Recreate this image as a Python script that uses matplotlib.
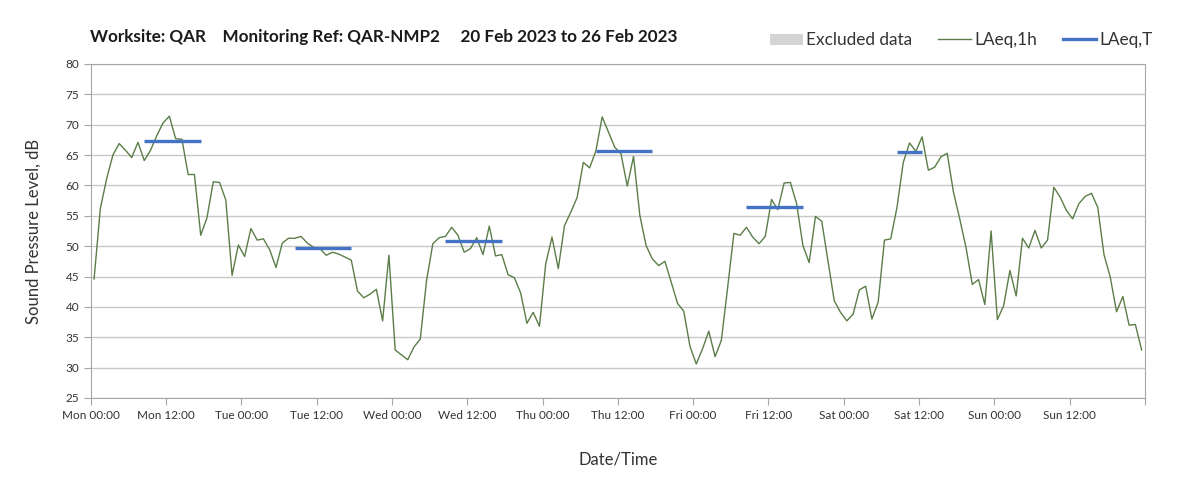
import numpy as np
import matplotlib
matplotlib.use("Agg")
import matplotlib.pyplot as plt
from matplotlib.lines import Line2D
from matplotlib.patches import Patch

# hourly LAeq,1h readings, Mon 20 Feb 00:00 -> Sun 26 Feb 23:00
laeq_1h = [
    44.6, 56.2, 61.1, 65.0, 66.9, 65.8, 64.6, 67.1, 64.1, 65.8,
    68.2, 70.3, 71.4, 67.7, 67.6, 61.8, 61.8, 51.8, 54.7, 60.6,
    60.5, 57.6, 45.2, 50.2, 48.3, 52.9, 51.0, 51.2, 49.4, 46.5,
    50.5, 51.3, 51.3, 51.6, 50.5, 49.8, 49.6, 48.5, 49.0, 48.7,
    48.2, 47.7,
    42.6, 41.5, 42.1, 42.9, 37.7, 48.5, 32.9, 32.1, 31.3, 33.4,
    34.7, 44.3, 50.4, 51.4, 51.6, 53.1, 51.8, 49.0, 49.6, 51.4,
    48.6, 53.3, 48.4, 48.6, 45.3, 44.8, 42.3, 37.3, 39.1, 36.8,
    47.1, 51.5, 46.3, 53.4, 55.6, 58.0, 63.8, 62.9, 65.7, 71.3,
    68.8, 66.3,
    65.2, 59.9, 64.8, 55.1, 50.1, 47.9, 46.8, 47.5, 44.1, 40.6,
    39.3, 33.5, 30.6, 33.1, 36.0, 31.8, 34.5, 43.2, 52.1, 51.8,
    53.1, 51.5, 50.4, 51.6, 57.7, 56.0, 60.4, 60.5, 57.0, 50.1,
    47.3, 54.9, 54.1, 47.6, 41.0, 39.1, 37.7, 38.8, 42.8, 43.4,
    38.0,
    40.8, 51.0, 51.2, 56.4, 63.8, 67.0, 65.6, 68.0, 62.5, 63.0,
    64.7, 65.3, 58.9, 54.5, 49.8, 43.7, 44.5, 40.4, 52.5, 37.9,
    40.2, 46.0, 41.8, 51.3, 49.7, 52.6, 49.7, 51.0, 59.7, 58.1,
    55.9, 54.5, 57.0, 58.2, 58.7, 56.4, 48.6, 44.9, 39.2, 41.7,
    37.0, 37.1, 32.9,
]

# working-period LAeq,T (day index, start hour, end hour, level)
period_day = [0, 1, 2, 3, 4, 5]
period_start = [8, 8, 8, 8, 8, 8]
period_end = [18, 18, 18, 18, 18, 13]
period_level = [67.3, 49.7, 50.9, 65.7, 56.4, 65.5]

days = ["Mon", "Tue", "Wed", "Thu", "Fri", "Sat", "Sun"]
tick_labels = [f"{d} {h}" for d in days for h in ("00:00", "12:00")] + [""]

GREEN = "#5b7d47"
BLUE = "#4472c4"
TXT = "#333333"

plt.rcParams["font.family"] = ["Lato", "DejaVu Sans"]

fig = plt.figure(figsize=(12.03, 4.90), dpi=100)
ax = fig.add_axes([0.0756, 0.1878, 0.876, 0.6816])

hours = np.arange(len(laeq_1h)) + 0.5
ax.plot(hours, laeq_1h, color=GREEN, lw=1.0, zorder=3)

for d, s, e, lev in zip(period_day, period_start, period_end, period_level):
    t0 = d * 24 + s + 0.5
    t1 = d * 24 + e - 0.5
    ax.plot([t0, t1], [lev, lev], color=BLUE, lw=2.4, solid_capstyle="butt", zorder=4)

ax.set_xlim(0, 168)
ax.set_ylim(25, 80)
ax.set_yticks(np.arange(25, 81, 5))
ax.set_xticks(np.arange(0, 169, 12))
ax.set_xticklabels(tick_labels)
ax.set_xticks(np.arange(24, 168, 24), minor=True)

ax.grid(axis="y", color="#c8c8c8", lw=1.0)
ax.grid(axis="x", which="minor", color="#dcdcdc", lw=1.0)
ax.set_axisbelow(True)

for sp in ax.spines.values():
    sp.set_color("#a6a6a6")
ax.tick_params(axis="both", which="major", colors="#a6a6a6", labelcolor=TXT,
               labelsize=8.5, length=5)
ax.tick_params(axis="x", which="minor", length=0)

ax.set_ylabel("Sound Pressure Level, dB", fontsize=12, color=TXT, labelpad=17)
ax.set_xlabel("Date/Time", fontsize=12, color=TXT, labelpad=22)

fig.text(0.075, 0.924,
         "Worksite: QAR    Monitoring Ref: QAR-NMP2     20 Feb 2023 to 26 Feb 2023",
         fontsize=12.3, fontweight="bold", color="#1a1a1a", va="center")

handles = [
    Patch(facecolor="#d4d4d4", edgecolor="none"),
    Line2D([], [], color=GREEN, lw=1.0),
    Line2D([], [], color=BLUE, lw=2.4),
]
fig.legend(handles, ["Excluded data", "LAeq,1h", "LAeq,T"], ncol=3, frameon=False,
           loc="center right", bbox_to_anchor=(0.971, 0.918), fontsize=12.4,
           handlelength=1.9, handleheight=0.6, handletextpad=0.2, columnspacing=1.5,
           labelcolor=TXT)

fig.savefig("out.png", dpi=100)
